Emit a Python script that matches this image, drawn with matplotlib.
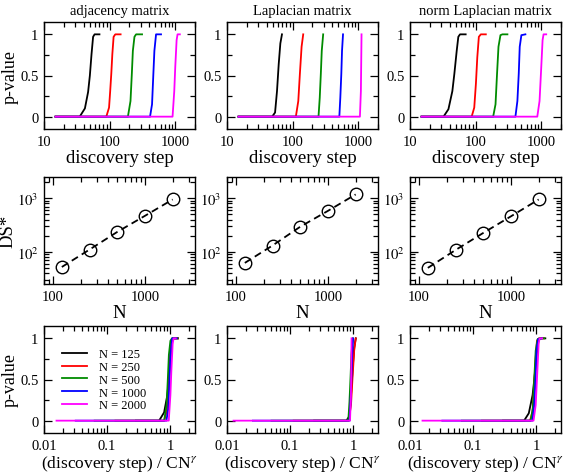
import numpy as np
import matplotlib
matplotlib.use("Agg")
import matplotlib.pyplot as plt
from matplotlib.ticker import FixedLocator, LogLocator, NullFormatter

plt.rcParams["font.family"] = ["Liberation Serif", "DejaVu Serif"]
plt.rcParams["mathtext.fontset"] = "stix"

# ── data ──────────────────────────────────────────────────────────────────────
TITLES = ["adjacency matrix", "Laplacian matrix", "norm Laplacian matrix"]
N_VALUES = [125, 250, 500, 1000, 2000]
LABELS = ["N = 125", "N = 250", "N = 500", "N = 1000", "N = 2000"]
COLORS = ["black", "#ff0000", "#008b00", "#0000ff", "#ff00ff"]

# p-value curves vs discovery step, one list per N (x, y)
adj_x = [[15, 35, 42, 47, 50, 53, 56, 59, 70],
         [15, 89, 98, 102, 106, 110, 115, 122, 147],
         [15, 190, 208, 218, 226, 239, 253, 312],
         [15, 413, 443, 464, 481, 510, 607],
         [15, 910, 966, 1000, 1049, 1084, 1175]]
adj_y = [[0, 0, 0.1, 0.3, 0.5, 0.76, 0.97, 1, 1],
         [0, 0, 0.11, 0.31, 0.52, 0.76, 0.97, 1, 1],
         [0, 0, 0.19, 0.52, 0.8, 0.97, 1, 1],
         [0, 0, 0.15, 0.52, 0.8, 1, 1],
         [0, 0, 0.31, 0.6, 0.93, 1, 1]]

lap_x = [[15, 48.7, 54, 57.8, 61.4, 65, 68.8],
         [15, 112, 122, 129, 137, 145],
         [15, 248, 259, 269, 278, 292],
         [15, 515, 533, 552, 566, 586],
         [15, 1060, 1097, 1109, 1122]]
lap_y = [[0, 0, 0.05, 0.31, 0.64, 0.89, 1],
         [0, 0, 0.19, 0.52, 0.85, 1],
         [0, 0, 0.23, 0.52, 0.8, 1],
         [0, 0, 0.23, 0.52, 0.8, 1],
         [0, 0, 0.31, 0.64, 1]]

nlap_x = [[15, 32.4, 38.5, 44.2, 47.4, 51.5, 54.5, 57.8, 70.5],
          [15, 87, 95.3, 101, 106, 112, 120, 143],
          [15, 185, 201, 212, 223, 239, 256, 305],
          [15, 404, 433, 454, 470, 498, 573],
          [15, 870, 942, 1000, 1048, 1084, 1190]]
nlap_y = [[0, 0, 0.09, 0.31, 0.52, 0.8, 0.97, 1, 1],
          [0, 0, 0.11, 0.4, 0.72, 0.97, 1, 1],
          [0, 0, 0.15, 0.52, 0.85, 0.99, 1, 1],
          [0, 0, 0.19, 0.52, 0.85, 0.99, 1],
          [0, 0, 0.19, 0.6, 0.93, 1, 1]]

# DS* (transition step) vs N
adj_ds = [52, 110, 235, 470, 950]
lap_ds = [62, 131, 294, 582, 1180]
nlap_ds = [50, 108, 225, 460, 950]

CURVES_X = [adj_x, lap_x, nlap_x]
CURVES_Y = [adj_y, lap_y, nlap_y]
DS_STAR = [adj_ds, lap_ds, nlap_ds]

# ── layout ────────────────────────────────────────────────────────────────────
W, H = 567, 477
fig = plt.figure(figsize=(W / 100, H / 100), dpi=100)

COL_LEFT = [44, 227, 410]
ROW_TOP = [23, 178, 327]
AX_W, AX_H = 151, 107


def make_ax(col, row):
    l = COL_LEFT[col] / W
    b = 1 - (ROW_TOP[row] + AX_H) / H
    return fig.add_axes([l, b, AX_W / W, AX_H / H])


def style(ax):
    ax.tick_params(which="both", direction="in", top=True, right=True,
                   labelsize=10.5, width=0.9, pad=4)
    ax.tick_params(which="major", length=6)
    ax.tick_params(which="minor", length=3.5)
    for sp in ax.spines.values():
        sp.set_linewidth(1.0)


def pvalue_yaxis(ax):
    ax.set_ylim(-0.15, 1.15)
    ax.yaxis.set_major_locator(FixedLocator([0, 0.5, 1]))
    ax.set_yticklabels(["0", "0.5", "1"])
    ax.yaxis.set_minor_locator(FixedLocator([0.25, 0.75]))


LABEL_KW = dict(fontsize=13.5)

for c in range(3):
    # row 1: p-value vs discovery step
    ax = make_ax(c, 0)
    for xs, ys, col in zip(CURVES_X[c], CURVES_Y[c], COLORS):
        ax.plot(xs, ys, color=col, lw=1.3)
    ax.set_xscale("log")
    ax.set_xlim(10, 2000)
    ax.xaxis.set_major_locator(FixedLocator([10, 100, 1000]))
    ax.set_xticklabels(["10", "100", "1000"])
    ax.xaxis.set_minor_locator(LogLocator(base=10, subs=np.arange(2, 10)))
    ax.xaxis.set_minor_formatter(NullFormatter())
    pvalue_yaxis(ax)
    style(ax)
    ax.set_title(TITLES[c], fontsize=10.5, pad=6)
    ax.set_xlabel("discovery step", labelpad=1, **LABEL_KW)
    if c == 0:
        ax.set_ylabel("p-value", fontsize=13)
        ax.yaxis.set_label_coords(-0.165, 0.5)

    # row 2: DS* vs N
    ax = make_ax(c, 1)
    ax.plot(N_VALUES, DS_STAR[c], color="black", lw=1.3, dashes=(4, 2.5),
            marker="o", ms=9, mfc="none", mec="black", mew=1.0)
    ax.set_xscale("log")
    ax.set_yscale("log")
    ax.set_xlim(80, 3500)
    ax.set_ylim(25, 2500)
    ax.xaxis.set_major_locator(FixedLocator([100, 1000]))
    ax.set_xticklabels(["100", "1000"])
    ax.xaxis.set_minor_locator(LogLocator(base=10, subs=np.arange(2, 10)))
    ax.xaxis.set_minor_formatter(NullFormatter())
    ax.yaxis.set_major_locator(FixedLocator([100, 1000]))
    ax.set_yticklabels([r"$10^2$", r"$10^3$"])
    ax.yaxis.set_minor_locator(LogLocator(base=10, subs=np.arange(2, 10)))
    ax.yaxis.set_minor_formatter(NullFormatter())
    style(ax)
    ax.set_xlabel("N", labelpad=1, **LABEL_KW)
    if c == 0:
        ax.set_ylabel("DS*", **LABEL_KW)
        ax.yaxis.set_label_coords(-0.18, 0.5)

    # row 3: collapsed curves, step / DS*
    ax = make_ax(c, 2)
    for xs, ys, col, lab, ds in zip(CURVES_X[c], CURVES_Y[c], COLORS,
                                    LABELS, DS_STAR[c]):
        ax.plot(np.array(xs) / ds, ys, color=col, lw=1.3, label=lab)
    ax.set_xscale("log")
    ax.set_xlim(0.01, 2.5)
    ax.xaxis.set_major_locator(FixedLocator([0.01, 0.1, 1]))
    ax.set_xticklabels(["0.01", "0.1", "1"])
    ax.xaxis.set_minor_locator(LogLocator(base=10, subs=np.arange(2, 10)))
    ax.xaxis.set_minor_formatter(NullFormatter())
    pvalue_yaxis(ax)
    style(ax)
    ax.set_xlabel(r"(discovery step) / CN$^{\gamma}$", labelpad=1, fontsize=12.5)
    if c == 0:
        ax.set_ylabel("p-value", fontsize=13)
        ax.yaxis.set_label_coords(-0.165, 0.5)
        ax.legend(loc="upper left", bbox_to_anchor=(0.08, 0.85), frameon=False,
                  fontsize=9, handlelength=2.0, handletextpad=0.9,
                  labelspacing=0.06, borderpad=0)

fig.savefig("out.png", dpi=100)
